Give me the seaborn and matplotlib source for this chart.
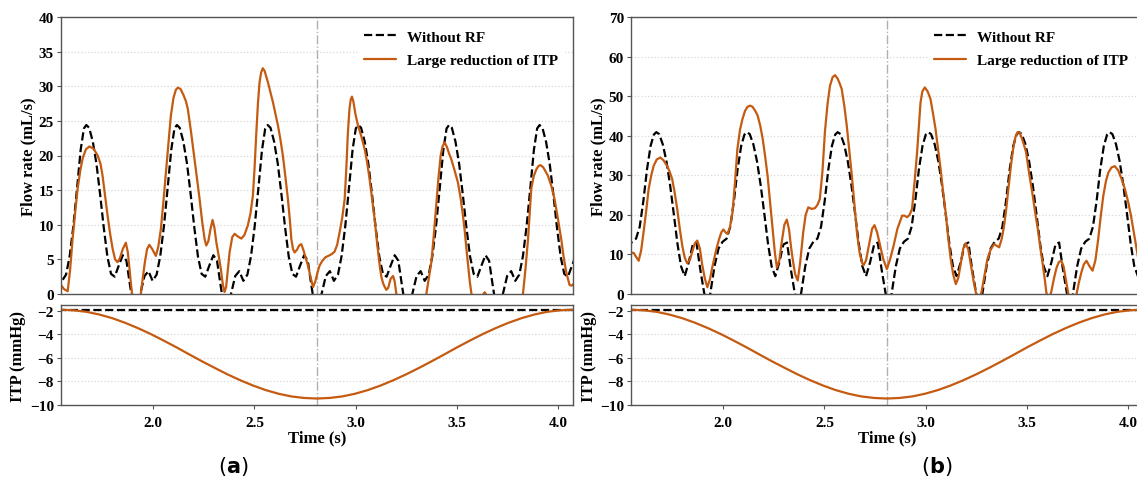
import matplotlib
matplotlib.use("Agg")
import matplotlib.pyplot as plt
import seaborn as sns
import pandas as pd

# ---------------- data ----------------
legend_labels = ["Without RF", "Large reduction of ITP"]
x_ticks = [2.0, 2.5, 3.0, 3.5, 4.0]
x_tick_labels = ["2.0", "2.5", "3.0", "3.5", "4.0"]
flow_ticks_a = [0, 5, 10, 15, 20, 25, 30, 35, 40]
flow_ticks_b = [0, 10, 20, 30, 40, 50, 60, 70]
itp_ticks = [-2, -4, -6, -8, -10]
panel_tags = ["a", "b"]
resp_mid_time = 2.81

# time of the "Without RF" flow samples (same for both panels)
t_base = [1.530, 1.550, 1.570, 1.588, 1.606, 1.624, 1.642, 1.658, 1.670, 1.684, 1.702, 1.720, 1.738,
          1.756, 1.774, 1.792, 1.810, 1.830, 1.850, 1.868, 1.886, 1.906, 1.922,
          1.936, 1.957, 1.977, 1.997, 2.017, 2.035, 2.053, 2.071, 2.089, 2.105, 2.117, 2.131, 2.149,
          2.167, 2.185, 2.203, 2.221, 2.239, 2.257, 2.277, 2.297, 2.315, 2.333, 2.353, 2.369,
          2.384, 2.405, 2.425, 2.445, 2.465, 2.483, 2.501, 2.519, 2.537, 2.553, 2.565, 2.579, 2.597,
          2.615, 2.633, 2.651, 2.669, 2.687, 2.705, 2.725, 2.745, 2.763, 2.781, 2.801, 2.817,
          2.831, 2.852, 2.872, 2.892, 2.912, 2.930, 2.948, 2.966, 2.984, 3.000, 3.012, 3.026, 3.044,
          3.062, 3.080, 3.098, 3.116, 3.134, 3.152, 3.172, 3.192, 3.210, 3.228, 3.248, 3.264,
          3.279, 3.300, 3.320, 3.340, 3.360, 3.378, 3.396, 3.414, 3.432, 3.448, 3.460, 3.474, 3.492,
          3.510, 3.528, 3.546, 3.564, 3.582, 3.600, 3.620, 3.640, 3.658, 3.676, 3.696, 3.712,
          3.726, 3.747, 3.767, 3.787, 3.807, 3.825, 3.843, 3.861, 3.879, 3.895, 3.907, 3.921, 3.939,
          3.957, 3.975, 3.993, 4.011, 4.029, 4.047, 4.067, 4.087]

flow_base_a = [3.3, 1.9, 2.8, 5.5, 9.8, 15.2, 20.8, 23.9, 24.4, 24.0, 22.0, 18.8, 14.4,
               9.6, 5.4, 2.9, 2.5, 4.1, 5.6, 4.8, 1.2, -2.6, -3.0,
               0.0, 2.6, 3.3, 1.9, 2.8, 5.5, 9.8, 15.2, 20.8, 23.9, 24.4, 24.0, 22.0,
               18.8, 14.4, 9.6, 5.4, 2.9, 2.5, 4.1, 5.6, 4.8, 1.2, -2.6, -3.0,
               0.0, 2.6, 3.3, 1.9, 2.8, 5.5, 9.8, 15.2, 20.8, 23.9, 24.4, 24.0, 22.0,
               18.8, 14.4, 9.6, 5.4, 2.9, 2.5, 4.1, 5.6, 4.8, 1.2, -2.6, -3.0,
               0.0, 2.6, 3.3, 1.9, 2.8, 5.5, 9.8, 15.2, 20.8, 23.9, 24.4, 24.0, 22.0,
               18.8, 14.4, 9.6, 5.4, 2.9, 2.5, 4.1, 5.6, 4.8, 1.2, -2.6, -3.0,
               0.0, 2.6, 3.3, 1.9, 2.8, 5.5, 9.8, 15.2, 20.8, 23.9, 24.4, 24.0, 22.0,
               18.8, 14.4, 9.6, 5.4, 2.9, 2.5, 4.1, 5.6, 4.8, 1.2, -2.6, -3.0,
               0.0, 2.6, 3.3, 1.9, 2.8, 5.5, 9.8, 15.2, 20.8, 23.9, 24.4, 24.0, 22.0,
               18.8, 14.4, 9.6, 5.4, 2.9, 2.5, 4.1, 5.6]

flow_base_b = [11.5, 13.2, 14.0, 17.0, 23.5, 31.5, 37.5, 40.3, 40.9, 40.4, 37.8, 33.5, 27.5,
               20.3, 12.8, 7.0, 4.5, 8.0, 12.5, 13.0, 6.5, 0.3, -3.0,
               0.0, 7.0, 11.5, 13.2, 14.0, 17.0, 23.5, 31.5, 37.5, 40.3, 40.9, 40.4, 37.8,
               33.5, 27.5, 20.3, 12.8, 7.0, 4.5, 8.0, 12.5, 13.0, 6.5, 0.3, -3.0,
               0.0, 7.0, 11.5, 13.2, 14.0, 17.0, 23.5, 31.5, 37.5, 40.3, 40.9, 40.4, 37.8,
               33.5, 27.5, 20.3, 12.8, 7.0, 4.5, 8.0, 12.5, 13.0, 6.5, 0.3, -3.0,
               0.0, 7.0, 11.5, 13.2, 14.0, 17.0, 23.5, 31.5, 37.5, 40.3, 40.9, 40.4, 37.8,
               33.5, 27.5, 20.3, 12.8, 7.0, 4.5, 8.0, 12.5, 13.0, 6.5, 0.3, -3.0,
               0.0, 7.0, 11.5, 13.2, 14.0, 17.0, 23.5, 31.5, 37.5, 40.3, 40.9, 40.4, 37.8,
               33.5, 27.5, 20.3, 12.8, 7.0, 4.5, 8.0, 12.5, 13.0, 6.5, 0.3, -3.0,
               0.0, 7.0, 11.5, 13.2, 14.0, 17.0, 23.5, 31.5, 37.5, 40.3, 40.9, 40.4, 37.8,
               33.5, 27.5, 20.3, 12.8, 7.0, 4.5, 8.0, 12.5]

# "Large reduction of ITP" flow, panel (a)
t_large_a = [1.530, 1.545, 1.560, 1.578, 1.590, 1.602, 1.615, 1.627, 1.640, 1.652, 1.668, 1.685,
             1.705, 1.726, 1.740, 1.750, 1.762, 1.775, 1.788, 1.800, 1.812, 1.824, 1.836, 1.850,
             1.865, 1.875, 1.884, 1.892, 1.900, 1.918, 1.935, 1.945, 1.959, 1.970, 1.981, 1.995,
             2.013, 2.025, 2.038, 2.050, 2.063, 2.075, 2.087, 2.100, 2.112, 2.122, 2.135, 2.150,
             2.162, 2.171, 2.185, 2.204, 2.217, 2.229, 2.242, 2.254, 2.262, 2.272, 2.283, 2.293,
             2.302, 2.312, 2.324, 2.334, 2.344, 2.352, 2.360, 2.368, 2.377, 2.390, 2.402, 2.418,
             2.435, 2.450, 2.467, 2.480, 2.492, 2.500, 2.509, 2.517, 2.525, 2.533, 2.541, 2.550,
             2.566, 2.578, 2.591, 2.603, 2.616, 2.628, 2.640, 2.653, 2.665, 2.675, 2.682, 2.690,
             2.698, 2.710, 2.720, 2.731, 2.742, 2.753, 2.764, 2.778, 2.789, 2.800, 2.810, 2.821,
             2.835, 2.850, 2.871, 2.883, 2.895, 2.908, 2.920, 2.933, 2.945, 2.953, 2.961, 2.969,
             2.975, 2.981, 2.988, 2.998, 3.011, 3.027, 3.044, 3.056, 3.068, 3.080, 3.093, 3.105,
             3.118, 3.126, 3.134, 3.143, 3.151, 3.160, 3.172, 3.184, 3.192, 3.200, 3.215, 3.270,
             3.330, 3.348, 3.360, 3.373, 3.385, 3.397, 3.408, 3.419, 3.428, 3.438, 3.450, 3.460,
             3.471, 3.488, 3.504, 3.517, 3.529, 3.538, 3.546, 3.555, 3.563, 3.571, 3.590, 3.620,
             3.630, 3.636, 3.642, 3.660, 3.740, 3.810, 3.825, 3.838, 3.850, 3.858, 3.866, 3.878,
             3.891, 3.902, 3.912, 3.925, 3.948, 3.965, 3.981, 3.998, 4.014, 4.026, 4.039, 4.055,
             4.065, 4.080]
flow_large_a = [2.5, 1.3, 0.7, 0.4, 3.5, 7.9, 11.8, 15.2, 17.8, 19.6, 20.9, 21.3,
                21.0, 20.0, 18.8, 17.1, 14.3, 11.3, 8.6, 6.5, 5.0, 4.6, 5.2, 6.5,
                7.4, 6.0, 3.4, 1.0, -1.0, -3.5, -1.0, 1.5, 4.6, 6.5, 7.1, 6.5,
                5.5, 6.8, 9.4, 13.2, 17.6, 21.8, 25.7, 28.3, 29.5, 29.8, 29.6, 28.7,
                27.8, 26.7, 23.8, 19.5, 16.5, 13.7, 10.4, 7.9, 7.0, 7.6, 9.4, 10.7,
                9.6, 7.4, 5.4, 3.6, 1.3, 0.3, 1.0, 3.3, 6.0, 8.2, 8.7, 8.3,
                8.0, 8.5, 9.9, 11.6, 14.2, 18.0, 23.3, 27.5, 30.6, 32.0, 32.6, 32.2,
                30.6, 29.2, 27.7, 26.1, 24.3, 22.3, 20.0, 16.8, 13.7, 10.5, 7.9, 6.5,
                6.0, 6.4, 7.0, 7.2, 6.3, 5.2, 4.1, 2.3, 1.0, 1.8, 3.0, 4.1,
                4.8, 5.3, 5.6, 5.8, 6.1, 7.1, 8.9, 11.0, 13.7, 18.0, 23.3, 26.8,
                28.1, 28.5, 27.8, 26.0, 24.3, 22.8, 20.9, 19.0, 16.6, 13.8, 10.8, 7.4,
                4.1, 2.5, 1.6, 1.0, 0.6, 0.9, 2.2, 2.6, 1.8, 0.0, -3.5, -5.0,
                -3.0, 0.0, 2.2, 4.6, 8.5, 12.8, 16.8, 20.0, 21.3, 21.9, 21.2, 20.3,
                19.5, 17.8, 16.1, 13.9, 11.3, 9.0, 6.5, 4.0, 1.7, 0.0, -3.0, -1.5,
                0.0, 0.25, 0.0, -3.0, -5.0, -2.0, 0.0, 3.8, 7.9, 11.5, 15.2, 17.0,
                18.0, 18.5, 18.6, 18.3, 17.1, 15.6, 13.7, 10.8, 7.9, 5.3, 3.1, 1.3,
                1.2, 1.6]

# "Large reduction of ITP" flow, panel (b)
t_large_b = [1.530, 1.541, 1.558, 1.570, 1.583, 1.595, 1.607, 1.620, 1.632, 1.645, 1.657, 1.672,
             1.690, 1.705, 1.723, 1.735, 1.748, 1.760, 1.773, 1.785, 1.798, 1.810, 1.822, 1.835,
             1.848, 1.860, 1.872, 1.885, 1.897, 1.910, 1.922, 1.935, 1.945, 1.955, 1.967, 1.980,
             1.991, 2.001, 2.011, 2.021, 2.033, 2.046, 2.058, 2.070, 2.083, 2.095, 2.108, 2.120,
             2.133, 2.145, 2.158, 2.170, 2.183, 2.195, 2.207, 2.219, 2.232, 2.244, 2.255, 2.265,
             2.277, 2.290, 2.302, 2.314, 2.325, 2.335, 2.343, 2.355, 2.368, 2.380, 2.395, 2.407,
             2.420, 2.437, 2.453, 2.465, 2.477, 2.490, 2.502, 2.515, 2.527, 2.540, 2.552, 2.565,
             2.575, 2.585, 2.598, 2.610, 2.622, 2.635, 2.648, 2.660, 2.673, 2.685, 2.692, 2.705,
             2.720, 2.735, 2.747, 2.760, 2.775, 2.790, 2.808, 2.825, 2.841, 2.860, 2.883, 2.895,
             2.908, 2.920, 2.932, 2.945, 2.957, 2.966, 2.974, 2.983, 2.995, 3.009, 3.023, 3.035,
             3.048, 3.060, 3.073, 3.085, 3.098, 3.110, 3.123, 3.135, 3.148, 3.160, 3.172, 3.185,
             3.197, 3.210, 3.222, 3.235, 3.247, 3.262, 3.275, 3.290, 3.304, 3.320, 3.337, 3.350,
             3.362, 3.375, 3.385, 3.395, 3.408, 3.420, 3.432, 3.443, 3.453, 3.463, 3.475, 3.485,
             3.495, 3.510, 3.528, 3.540, 3.553, 3.565, 3.578, 3.587, 3.595, 3.605, 3.619, 3.632,
             3.645, 3.657, 3.669, 3.680, 3.690, 3.702, 3.720, 3.744, 3.756, 3.768, 3.780, 3.793,
             3.808, 3.823, 3.837, 3.851, 3.863, 3.876, 3.889, 3.901, 3.917, 3.933, 3.950, 3.966,
             3.983, 3.999, 4.012, 4.024, 4.037, 4.049, 4.062, 4.080]
flow_large_b = [10.0, 10.4, 10.4, 9.4, 8.4, 11.0, 15.6, 21.0, 26.5, 30.0, 32.4, 34.0,
                34.5, 33.8, 32.4, 31.0, 29.1, 25.8, 21.5, 16.8, 12.2, 9.2, 7.8, 8.5,
                10.8, 12.8, 13.5, 11.5, 7.2, 3.8, 1.7, 3.8, 6.5, 8.8, 11.5, 13.9,
                15.6, 16.3, 15.6, 15.2, 16.8, 20.6, 28.0, 36.6, 41.5, 44.2, 46.3, 47.3,
                47.6, 47.3, 46.3, 45.1, 42.5, 39.2, 34.8, 29.9, 23.0, 16.4, 10.5, 6.7,
                8.5, 13.5, 17.5, 18.8, 16.3, 11.8, 8.8, 5.0, 3.4, 8.0, 15.6, 20.0,
                21.9, 21.5, 21.7, 22.5, 24.0, 31.0, 40.9, 48.0, 52.6, 54.8, 55.3, 54.4,
                53.2, 51.8, 47.5, 42.5, 36.5, 29.9, 22.5, 15.6, 10.5, 8.0, 7.2, 8.5,
                12.5, 16.5, 17.4, 15.5, 12.2, 8.8, 6.3, 9.0, 12.2, 16.5, 19.8, 19.8,
                19.4, 20.0, 21.5, 28.5, 35.8, 42.5, 48.4, 51.2, 52.2, 51.2, 49.3, 45.8,
                41.7, 36.8, 31.6, 26.0, 20.6, 14.5, 8.8, 5.0, 2.5, 4.0, 7.5, 11.5,
                12.8, 11.2, 7.5, 3.5, 0.4, -1.5, 0.5, 4.8, 8.8, 11.2, 12.6, 12.2,
                11.8, 14.0, 16.8, 20.6, 26.8, 32.4, 37.0, 39.8, 40.9, 40.8, 39.2, 37.6,
                35.8, 30.5, 24.8, 20.5, 16.4, 11.8, 7.2, 3.8, 0.4, -1.5, 0.5, 3.8,
                6.6, 8.1, 8.4, 7.0, 4.0, 0.4, -3.0, 0.0, 3.0, 5.5, 7.5, 8.4,
                7.0, 5.9, 8.5, 13.9, 19.5, 24.8, 28.5, 30.7, 32.0, 32.3, 31.2, 29.1,
                26.5, 23.2, 20.0, 16.4, 12.5, 8.8, 6.0, 4.0]

# intrathoracic pressure (same in both panels)
t_itp = [1.545, 1.608, 1.671, 1.734, 1.798, 1.861, 1.924, 1.987, 2.050, 2.113, 2.176, 2.239,
         2.303, 2.366, 2.429, 2.492, 2.555, 2.618, 2.681, 2.744, 2.808, 2.871, 2.934, 2.997,
         3.060, 3.123, 3.186, 3.249, 3.313, 3.376, 3.439, 3.502, 3.565, 3.628, 3.691, 3.754,
         3.818, 3.881, 3.944, 4.007, 4.070]
itp_large = [-1.90, -1.95, -2.08, -2.31, -2.62, -3.01, -3.46, -3.96, -4.51, -5.08, -5.68, -6.27,
             -6.84, -7.39, -7.89, -8.34, -8.73, -9.04, -9.27, -9.40, -9.45, -9.40, -9.27, -9.04,
             -8.73, -8.34, -7.89, -7.39, -6.84, -6.27, -5.68, -5.08, -4.51, -3.96, -3.46, -3.01,
             -2.62, -2.31, -2.08, -1.95, -1.90]
t_itp_base = [1.530, 4.090]
itp_base = [-1.9, -1.9]

# ---------------- style ----------------
sns.set_style("ticks")
plt.rcParams['font.family'] = ['Liberation Serif', 'DejaVu Serif']
plt.rcParams['font.weight'] = 'bold'
plt.rcParams['axes.labelweight'] = 'bold'
plt.rcParams['axes.unicode_minus'] = True
plt.rcParams['text.color'] = 'black'
plt.rcParams['axes.labelcolor'] = 'black'
plt.rcParams['xtick.color'] = 'black'
plt.rcParams['ytick.color'] = 'black'

ORANGE = "#C55A11"
SPINE = "#555555"
W, H = 1137, 485

fig = plt.figure(figsize=(W / 100, H / 100), dpi=100)


def add_ax(x0, y0, x1, y1):
    return fig.add_axes([x0 / W, 1 - y1 / H, (x1 - x0) / W, (y1 - y0) / H])


def style(ax):
    for s in ax.spines.values():
        s.set_color(SPINE)
        s.set_linewidth(1.0)
    ax.tick_params(axis='both', labelsize=11, length=3, width=0.8, color=SPINE,
                   labelcolor='black', pad=2)
    ax.yaxis.grid(True, color='#d8d8d8', linestyle=':', linewidth=0.9)
    ax.xaxis.grid(False)
    ax.set_axisbelow(True)


panels = [
    dict(x0=61, base=flow_base_a, t_large=t_large_a, large=flow_large_a,
         ymax=40, yticks=flow_ticks_a, tag="a", tag_x=233),
    dict(x0=631, base=flow_base_b, t_large=t_large_b, large=flow_large_b,
         ymax=70, yticks=flow_ticks_b, tag="b", tag_x=937),
]

xlim = (1.545, 4.072)

for p in panels:
    x0 = p["x0"]
    axt = add_ax(x0, 18, x0 + 512, 295)
    axb = add_ax(x0, 306, x0 + 512, 406)

    df_base = pd.DataFrame({"t": t_base, "q": p["base"]})
    df_large = pd.DataFrame({"t": p["t_large"], "q": p["large"]})
    sns.lineplot(data=df_base, x="t", y="q", ax=axt, color="black", linestyle="--",
                 linewidth=1.6, estimator=None, sort=False, label=legend_labels[0])
    sns.lineplot(data=df_large, x="t", y="q", ax=axt, color=ORANGE, linewidth=1.6,
                 estimator=None, sort=False, label=legend_labels[1])
    axt.axvline(resp_mid_time, color="#b0b0b0", linestyle="-.", linewidth=1.0, zorder=1)
    axt.set_xlim(*xlim)
    axt.set_ylim(0, p["ymax"])
    axt.set_yticks(p["yticks"])
    axt.set_xticks(x_ticks)
    axt.tick_params(axis='x', bottom=False, labelbottom=False)
    axt.set_xlabel("")
    axt.set_ylabel("Flow rate (mL/s)", fontsize=12, fontweight='bold')
    axt.yaxis.set_label_coords(-24.5 / 512, 0.5)
    style(axt)
    leg = axt.legend(loc="upper left", bbox_to_anchor=(0.58, 0.975), borderaxespad=0,
                     fontsize=11, handlelength=2.1, handletextpad=0.7, labelspacing=0.62,
                     frameon=True, fancybox=False, borderpad=0.4)
    leg.get_frame().set_facecolor("white")
    leg.get_frame().set_edgecolor("white")
    leg.get_frame().set_alpha(1.0)
    for txt in leg.get_texts():
        txt.set_fontweight('bold')
        txt.set_color('black')

    df_itp0 = pd.DataFrame({"t": t_itp_base, "p": itp_base})
    df_itp1 = pd.DataFrame({"t": t_itp, "p": itp_large})
    sns.lineplot(data=df_itp0, x="t", y="p", ax=axb, color="black", linestyle="--",
                 linewidth=1.6, estimator=None, sort=False, legend=False)
    sns.lineplot(data=df_itp1, x="t", y="p", ax=axb, color=ORANGE, linewidth=1.6,
                 estimator=None, sort=False, legend=False)
    axb.axvline(resp_mid_time, color="#b0b0b0", linestyle="-.", linewidth=1.0, zorder=1)
    axb.set_xlim(*xlim)
    axb.set_ylim(-10, -1.5)
    axb.set_yticks(itp_ticks)
    axb.set_yticklabels(["\u2212" + str(abs(v)) for v in itp_ticks])
    axb.set_xticks(x_ticks)
    axb.set_xticklabels(x_tick_labels)
    axb.set_xlabel("Time (s)", fontsize=12, fontweight='bold', labelpad=0)
    axb.set_ylabel("ITP (mmHg)", fontsize=12, fontweight='bold')
    axb.yaxis.set_label_coords(-34.5 / 512, 0.5)
    style(axb)
    axb.tick_params(axis='x', pad=5)

    fig.text(p["tag_x"] / W, 1 - 467 / H, "(" + r"$\mathbf{" + p["tag"] + "}$" + ")",
             fontsize=15, family="DejaVu Sans", fontweight="normal", color="black",
             ha="center", va="center")

fig.savefig("out.png", dpi=100)
